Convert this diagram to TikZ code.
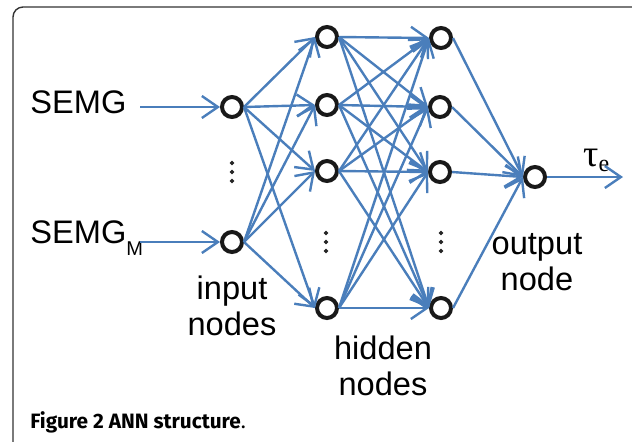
\documentclass[tikz,border=0pt]{standalone}
\usepackage{fontspec}
\setmainfont{Liberation Sans}
\newfontfamily\capfont{Fira Sans}
\newfontfamily\taufont{Liberation Serif}
\usetikzlibrary{arrows.meta}
\definecolor{linkblue}{RGB}{74,126,187}

\begin{document}
\begin{tikzpicture}[x=0.5pt, y=-0.5pt,
  neuron/.style={circle, draw=black!90, line width=2pt, minimum size=10pt, inner sep=0pt},
  link/.style={linkblue, line width=1.2pt, -{Straight Barb[length=8pt,width=11pt,line width=1.2pt]}},
  lbl/.style={font=\fontsize{16.3}{18}\selectfont, align=center, inner sep=0pt}]
\useasboundingbox (0,0) rectangle (632,441);
\draw [black!80, line width=0.7pt, rounded corners=5pt] (13,7) rectangle (680,480);
% neurons
\node [neuron] (i1) at (232,107) {};
\node [neuron] (i2) at (232,242) {};
\node [neuron] (ha) at (327,37) {};
\node [neuron] (hb) at (327,105) {};
\node [neuron] (hc) at (327,171) {};
\node [neuron] (hd) at (327,308) {};
\node [neuron] (ka) at (441,38) {};
\node [neuron] (kb) at (440,107) {};
\node [neuron] (kc) at (440,172) {};
\node [neuron] (kd) at (441,308) {};
\node [neuron] (out) at (535,177) {};
% weights
\foreach \a in {i1,i2}
  \foreach \b in {ha,hb,hc,hd}
    \draw [link] (\a.east) -- (\b.west);
\foreach \a in {ha,hb,hc,hd}
  \foreach \b in {ka,kb,kc,kd}
    \draw [link] (\a.east) -- (\b.west);
\foreach \a in {ka,kb,kc,kd}
  \draw [link] (\a.east) -- (out.west);
\coordinate (tauend) at (623,177);
\draw [link] (out.east) -- (tauend);
% inputs
\node [lbl, anchor=base west] (semga) at (30,113) {SEMG};
\node [lbl, anchor=base west] (semgm) at (30,243) {SEMG\raisebox{-6pt}{\fontsize{10}{10}\selectfont M}};
\coordinate (ina) at (140,107);
\coordinate (inm) at (140,242);
\draw [link] (ina) -- (i1.west);
\draw [link] (inm) -- (i2.west);
\node [anchor=base west, inner sep=0pt, font=\taufont\fontsize{19}{19}\selectfont] (tau) at (583,166) {τ\raisebox{-2.5pt}{\fontsize{12}{12}\selectfont e}};
% dots
\foreach \x/\y in {232/163, 326/233, 441/233}
  \foreach \k in {0,1,2}
    \draw [fill, black!85] (\x,\y+9*\k) circle [radius=0.85pt];
% labels
\node [lbl, anchor=base] (inlbl) at (232,335) {input\\nodes};
\node [lbl, anchor=base] (hidlbl) at (383,395) {hidden\\nodes};
\node [lbl, anchor=base] (outlbl) at (537,290) {output\\node};
\node [anchor=base west, inner sep=0pt, font=\capfont\bfseries\fontsize{10.4}{11}\selectfont] (cap) at (30,428) {Figure 2 ANN structure{\mdseries.}};
\end{tikzpicture}
\end{document}
